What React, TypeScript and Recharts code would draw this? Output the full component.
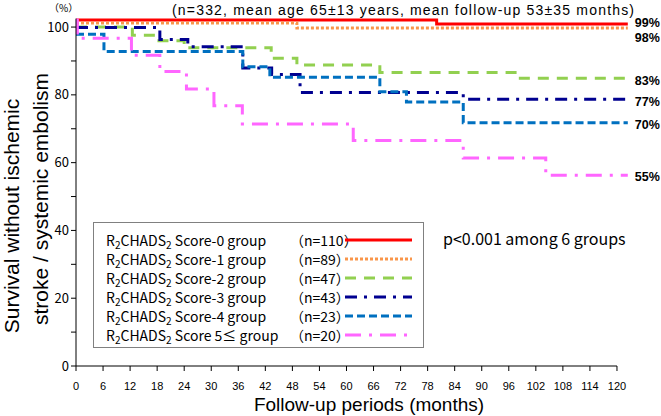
import { LineChart, Line, XAxis, YAxis, Legend, ReferenceLine, Customized } from 'recharts';

const FONT = '"Noto Sans CJK JP", "Noto Sans", sans-serif';
const SANS = '"Liberation Sans", Arial, sans-serif';

const xTicks = [0, 6, 12, 18, 24, 30, 36, 42, 48, 54, 60, 66, 72, 78, 84, 90, 96, 102, 108, 114, 120];
const yTicks = [0, 10, 20, 30, 40, 50, 60, 70, 80, 90, 100];

// Kaplan-Meier steps: month -> survival (%)
const score0 = [
  { m: 0, s: 102.1 },
  { m: 80, s: 100.9 },
  { m: 122.4, s: 100.9 },
];
const score1 = [
  { m: 0, s: 101.2 },
  { m: 49, s: 99.7 },
  { m: 122.4, s: 99.7 },
];
const score2 = [
  { m: 0, s: 100 },
  { m: 12.5, s: 97.6 },
  { m: 18, s: 96.0 },
  { m: 24, s: 93.9 },
  { m: 43.3, s: 90.8 },
  { m: 49, s: 88.8 },
  { m: 67.4, s: 86.6 },
  { m: 97.8, s: 84.9 },
  { m: 122.4, s: 84.9 },
];
const score3 = [
  { m: 0, s: 99.9 },
  { m: 18.6, s: 96.3 },
  { m: 24.8, s: 94.2 },
  { m: 37, s: 87.9 },
  { m: 43.4, s: 86.0 },
  { m: 49.7, s: 80.7 },
  { m: 85.9, s: 78.7 },
  { m: 122.4, s: 78.7 },
];
const score4 = [
  { m: 0, s: 97.9 },
  { m: 6.2, s: 92.8 },
  { m: 37, s: 88.3 },
  { m: 43, s: 85.2 },
  { m: 67.4, s: 80.9 },
  { m: 73.3, s: 77.9 },
  { m: 85.9, s: 71.8 },
  { m: 122.4, s: 71.8 },
];
const score5 = [
  { m: 0, s: 102.1 },
  { m: 0.3, s: 96.7 },
  { m: 12.3, s: 91.7 },
  { m: 18.6, s: 86.9 },
  { m: 24.5, s: 81.7 },
  { m: 30.6, s: 76.8 },
  { m: 36.9, s: 71.4 },
  { m: 61.5, s: 66.5 },
  { m: 85.9, s: 61.4 },
  { m: 104.2, s: 56.3 },
  { m: 122.4, s: 56.3 },
];

const groupSuffix = ['Score-0 group', 'Score-1 group', 'Score-2 group', 'Score-3 group', 'Score-4 group', 'Score 5≤ group'];
const groupN = [110, 89, 47, 43, 23, 20];
const endLabels = ['99%', '98%', '83%', '77%', '70%', '55%'];

const series = [
  { data: score0, color: '#ff0000', dash: undefined, labelDy: -2 },
  { data: score1, color: '#f9964a', dash: '3 2', labelDy: 9 },
  { data: score2, color: '#92d050', dash: '11 8', labelDy: 2 },
  { data: score3, color: '#000090', dash: '12 7 3 7', labelDy: 2 },
  { data: score4, color: '#0070c0', dash: '8 4', labelDy: 2 },
  { data: score5, color: '#ff66ff', dash: '16 8 3 8', labelDy: 1 },
];

function endLabel(i: number) {
  return (props: any) => {
    const { x, y, index } = props;
    if (index !== series[i].data.length - 1) return null;
    return (
      <text
        key={`end-${i}`}
        x={x + 7}
        y={y + series[i].labelDy + 4.5}
        fontFamily={SANS}
        fontWeight="bold"
        fontSize={12.5}
        fill="#000"
      >
        {endLabels[i]}
      </text>
    );
  };
}

function YTick(props: any) {
  const { x, y, payload } = props;
  if (payload.value % 20 !== 0) return <g />;
  return (
    <text x={x} y={y} dy={4.5} textAnchor="end" fontFamily={FONT} fontSize={13} fill="#000">
      {payload.value}
    </text>
  );
}

function XTick(props: any) {
  const { x, y, payload } = props;
  return (
    <text x={x} y={y} dy={17} textAnchor="middle" fontFamily={SANS} fontSize={11} fill="#000">
      {payload.value}
    </text>
  );
}

function LegendBox() {
  return (
    <div
      style={{
        border: '1px solid #808080',
        background: '#fff',
        width: 331,
        height: 126,
        boxSizing: 'border-box',
        padding: '7px 0 0 12px',
        fontFamily: FONT,
        fontSize: 14,
        color: '#000',
      }}
    >
      {series.map((s, i) => (
        <div key={i} style={{ display: 'flex', alignItems: 'center', height: 19.1, whiteSpace: 'nowrap' }}>
          <span style={{ width: 184 }}>
            R<span style={{ fontSize: 10, position: 'relative', top: 3 }}>2</span>CHADS
            <span style={{ fontSize: 10, position: 'relative', top: 3 }}>2</span> {groupSuffix[i]}
          </span>
          <span style={{ width: 55 }}>（n={groupN[i]}）</span>
          <svg width={67} height={6}>
            <line x1={0} y1={3} x2={67} y2={3} stroke={s.color} strokeWidth={3} strokeDasharray={s.dash} />
          </svg>
        </div>
      ))}
    </div>
  );
}

function Annotations() {
  return (
    <g fontFamily={FONT} fill="#000">
      <text x={49} y={12} fontSize={10}>（%）</text>
      <text x={172} y={15} fontSize={14} fontFamily={SANS} textLength={462} lengthAdjust="spacing">
        (n=332, mean age 65±13 years, mean follow-up 53±35 months)
      </text>
      <text x={443} y={245} fontSize={16}>p&lt;0.001 among 6 groups</text>
      <text x={369} y={411} fontSize={19} fontFamily={SANS} textAnchor="middle">
        Follow-up periods (months)
      </text>
      <text transform="translate(19,216) rotate(-90)" fontSize={21} fontFamily={SANS} textAnchor="middle">
        Survival without ischemic
      </text>
      <text transform="translate(48,199) rotate(-90)" fontSize={21} fontFamily={SANS} textAnchor="middle">
        stroke / systemic embolism
      </text>
    </g>
  );
}

export default function App() {
  return (
    <div style={{ position: 'absolute', left: 0, top: 0, width: 661, height: 416, background: '#fff' }}>
      <LineChart width={661} height={416} margin={{ top: 18.6, right: 33.2, bottom: 0, left: 0 }}>
        <XAxis
          type="number"
          dataKey="m"
          domain={[0, 122.4]}
          ticks={xTicks}
          interval={0}
          axisLine={false}
          tickLine={{ stroke: '#000' }}
          tickSize={5}
          tick={<XTick />}
          height={50}
        />
        <YAxis
          type="number"
          dataKey="s"
          domain={[0, 102.5]}
          ticks={yTicks}
          interval={0}
          axisLine={{ stroke: '#000' }}
          tickLine={{ stroke: '#000' }}
          tickSize={5}
          tick={<YTick />}
          width={76}
        />
        <ReferenceLine segment={[{ x: 0, y: 0 }, { x: 120, y: 0 }]} stroke="#000" />
        <Legend
          layout="vertical"
          align="center"
          verticalAlign="middle"
          wrapperStyle={{ left: 93, top: 222, width: 331, height: 126 }}
          content={<LegendBox />}
        />
        {series.map((s, i) => (
          <Line
            key={i}
            data={s.data}
            dataKey="s"
            type="stepAfter"
            stroke={s.color}
            strokeWidth={3}
            strokeDasharray={s.dash}
            dot={false}
            activeDot={false}
            isAnimationActive={false}
            label={endLabel(i)}
          />
        ))}
        <Customized component={Annotations} />
      </LineChart>
    </div>
  );
}
